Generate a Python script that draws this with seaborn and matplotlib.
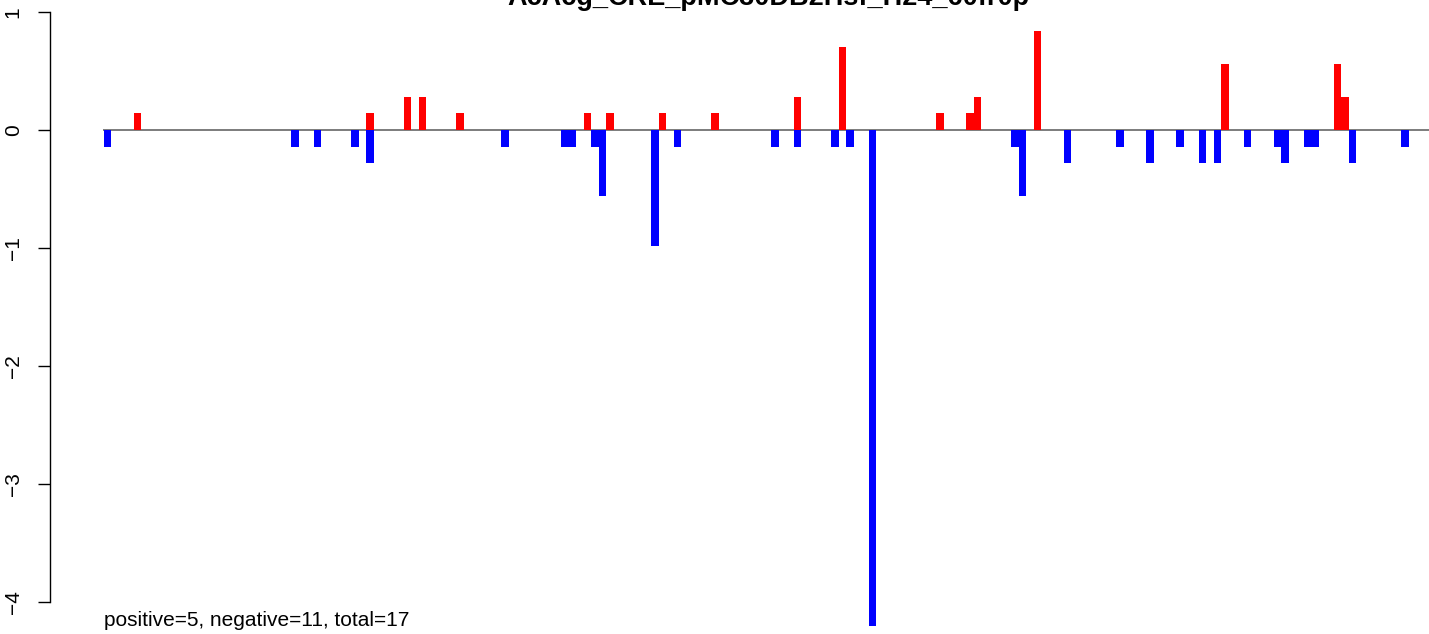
import matplotlib
matplotlib.use('Agg')
import matplotlib.pyplot as plt
import seaborn as sns
import pandas as pd

title = 'AcAcg_CRE_pMC30DB2Hsf_H24_60fr0p'
note = 'positive=5, negative=11, total=17'

# bar index along the track and its value
up_pos = [4, 35, 40, 42, 47, 64, 67, 74, 81, 92, 98, 111, 115, 116, 124, 149, 164, 165]
up_val = [0.14, 0.14, 0.28, 0.28, 0.14, 0.14, 0.14, 0.14, 0.14, 0.28, 0.70, 0.14, 0.14, 0.28, 0.84, 0.56, 0.56, 0.28]

down_pos = [0, 25, 28, 33, 35, 53, 61, 62, 65, 66, 73, 76, 89, 92, 97, 99, 102, 121, 122, 128,
            135, 139, 143, 146, 148, 152, 156, 157, 160, 161, 166, 173]
down_val = [-0.14, -0.14, -0.14, -0.14, -0.28, -0.14, -0.14, -0.14, -0.14, -0.56, -0.98, -0.14,
            -0.14, -0.14, -0.14, -0.14, -4.20, -0.14, -0.56, -0.28, -0.14, -0.28, -0.14, -0.28,
            -0.28, -0.14, -0.14, -0.28, -0.14, -0.14, -0.28, -0.14]

yticks = [1, 0, -1, -2, -3, -4]

up = pd.DataFrame({'pos': up_pos, 'val': up_val})
down = pd.DataFrame({'pos': down_pos, 'val': down_val})

sns.set_style('white')
plt.rcParams['font.family'] = ['Liberation Sans', 'DejaVu Sans']
plt.rcParams['text.color'] = 'black'
plt.rcParams['ytick.color'] = 'black'

fig = plt.figure(figsize=(14.29, 6.34), dpi=100)
ax = fig.add_axes([50 / 1429, 0, 1 - 50 / 1429, 1])

sns.barplot(data=up, x='pos', y='val', native_scale=True, width=1, color='#ff0000',
            saturation=1, linewidth=0, ax=ax)
sns.barplot(data=down, x='pos', y='val', native_scale=True, width=1, color='#0000ff',
            saturation=1, linewidth=0, ax=ax)

ax.hlines(0, -0.6, 180, color='#666666', lw=1.2, zorder=0)

ax.set_xlim(-7.7, 176.17)
ax.set_ylim(-4.271, 1.1017)

for s in ['top', 'right', 'bottom']:
    ax.spines[s].set_visible(False)
ax.spines['left'].set_bounds(-4, 1)
ax.spines['left'].set_linewidth(1.0)
ax.spines['left'].set_color('black')
ax.set_xticks([])
ax.set_yticks(yticks)
ax.set_yticklabels([str(t).replace('-', '\u2212') for t in yticks], rotation=90, va='center')
ax.tick_params(axis='y', direction='out', length=8.6, width=1.0, pad=11, labelsize=15,
               left=True, colors='black')
ax.set_xlabel('')
ax.set_ylabel('')

fig.text(768 / 1429, 1 - 5 / 634, title, ha='center', va='baseline', fontsize=19.5,
         fontweight='bold', color='black')
fig.text(104 / 1429, 8 / 634, note, ha='left', va='baseline', fontsize=15, color='black')

fig.savefig('out.png', dpi=100)
